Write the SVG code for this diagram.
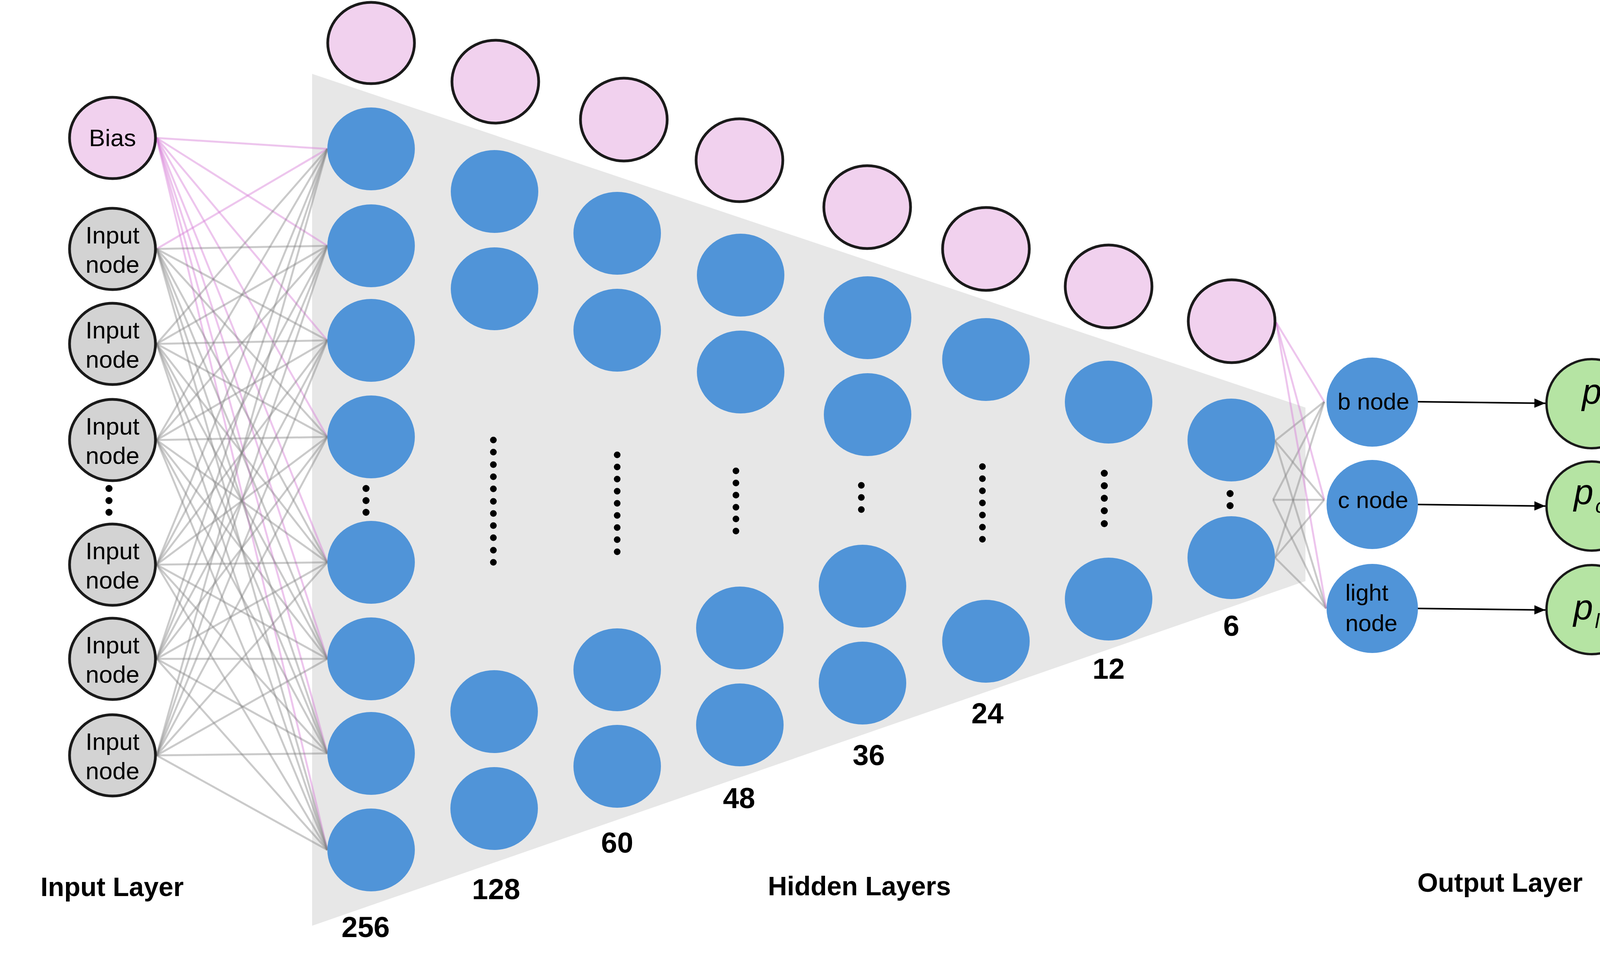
<svg xmlns="http://www.w3.org/2000/svg" width="4339" height="2472" viewBox="0 0 4339 2472">
<defs>
<style>
.bg{fill:#ffffff}
.band{fill:#e7e7e7}
.bias{fill:#f1d1ee;stroke:#1a1a1a;stroke-width:7}
.inp{fill:#d3d3d3;stroke:#1a1a1a;stroke-width:7}
.hid{fill:#5094d8}
.out{fill:#b5e4a3;stroke:#1a1a1a;stroke-width:6}
.g{stroke:#808080;stroke-opacity:0.42;stroke-width:5;fill:none}
.p{stroke:#d77fd6;stroke-opacity:0.45;stroke-width:5;fill:none}
.arr{stroke:#000;stroke-width:4;fill:none}
.dot{fill:#000}
.t{font-family:"Liberation Sans",Arial,sans-serif;font-size:62px;fill:#000;text-anchor:middle}
.tl{font-family:"Liberation Sans",Arial,sans-serif;font-size:60px;fill:#000}
.lab{font-family:"Liberation Sans",Arial,sans-serif;font-size:68px;font-weight:bold;fill:#000;text-anchor:middle}
.num{font-family:"Liberation Sans",Arial,sans-serif;font-size:74px;font-weight:bold;fill:#000;text-anchor:middle}
.pm{font-family:"Liberation Sans",Arial,sans-serif;font-style:italic;fill:#000}
</style>
<marker id="ah" markerUnits="userSpaceOnUse" markerWidth="30" markerHeight="26" refX="28" refY="13" orient="auto">
<path d="M0,1 L28,13 L0,25 Z" fill="#000"/>
</marker>
</defs>
<rect class="bg" x="0" y="0" width="4339" height="2472"/>
<polygon id="hidden-band" class="band" points="799,189 3342,1043 3342,1487 799,2369"/>

<g id="connectors">
<g id="in-to-h1">
<line class="p" x1="401" y1="353" x2="838" y2="381"/>
<line class="p" x1="401" y1="353" x2="838" y2="629"/>
<line class="p" x1="401" y1="353" x2="838" y2="871"/>
<line class="p" x1="401" y1="353" x2="838" y2="1118"/>
<line class="p" x1="401" y1="353" x2="838" y2="1439"/>
<line class="p" x1="401" y1="353" x2="838" y2="1686"/>
<line class="p" x1="401" y1="353" x2="838" y2="1928"/>
<line class="p" x1="401" y1="353" x2="838" y2="2175"/>
<line class="p" x1="401" y1="637" x2="838" y2="381"/>
<line class="g" x1="401" y1="637" x2="838" y2="629"/>
<line class="g" x1="401" y1="637" x2="838" y2="871"/>
<line class="g" x1="401" y1="637" x2="838" y2="1118"/>
<line class="g" x1="401" y1="637" x2="838" y2="1439"/>
<line class="g" x1="401" y1="637" x2="838" y2="1686"/>
<line class="g" x1="401" y1="637" x2="838" y2="1928"/>
<line class="g" x1="401" y1="637" x2="838" y2="2175"/>
<line class="g" x1="401" y1="880" x2="838" y2="381"/>
<line class="g" x1="401" y1="880" x2="838" y2="629"/>
<line class="g" x1="401" y1="880" x2="838" y2="871"/>
<line class="g" x1="401" y1="880" x2="838" y2="1118"/>
<line class="g" x1="401" y1="880" x2="838" y2="1439"/>
<line class="g" x1="401" y1="880" x2="838" y2="1686"/>
<line class="g" x1="401" y1="880" x2="838" y2="1928"/>
<line class="g" x1="401" y1="880" x2="838" y2="2175"/>
<line class="g" x1="401" y1="1126" x2="838" y2="381"/>
<line class="g" x1="401" y1="1126" x2="838" y2="629"/>
<line class="g" x1="401" y1="1126" x2="838" y2="871"/>
<line class="g" x1="401" y1="1126" x2="838" y2="1118"/>
<line class="g" x1="401" y1="1126" x2="838" y2="1439"/>
<line class="g" x1="401" y1="1126" x2="838" y2="1686"/>
<line class="g" x1="401" y1="1126" x2="838" y2="1928"/>
<line class="g" x1="401" y1="1126" x2="838" y2="2175"/>
<line class="g" x1="401" y1="1445" x2="838" y2="381"/>
<line class="g" x1="401" y1="1445" x2="838" y2="629"/>
<line class="g" x1="401" y1="1445" x2="838" y2="871"/>
<line class="g" x1="401" y1="1445" x2="838" y2="1118"/>
<line class="g" x1="401" y1="1445" x2="838" y2="1439"/>
<line class="g" x1="401" y1="1445" x2="838" y2="1686"/>
<line class="g" x1="401" y1="1445" x2="838" y2="1928"/>
<line class="g" x1="401" y1="1445" x2="838" y2="2175"/>
<line class="g" x1="401" y1="1686" x2="838" y2="381"/>
<line class="g" x1="401" y1="1686" x2="838" y2="629"/>
<line class="g" x1="401" y1="1686" x2="838" y2="871"/>
<line class="g" x1="401" y1="1686" x2="838" y2="1118"/>
<line class="g" x1="401" y1="1686" x2="838" y2="1439"/>
<line class="g" x1="401" y1="1686" x2="838" y2="1686"/>
<line class="g" x1="401" y1="1686" x2="838" y2="1928"/>
<line class="g" x1="401" y1="1686" x2="838" y2="2175"/>
<line class="g" x1="401" y1="1933" x2="838" y2="381"/>
<line class="g" x1="401" y1="1933" x2="838" y2="629"/>
<line class="g" x1="401" y1="1933" x2="838" y2="871"/>
<line class="g" x1="401" y1="1933" x2="838" y2="1118"/>
<line class="g" x1="401" y1="1933" x2="838" y2="1439"/>
<line class="g" x1="401" y1="1933" x2="838" y2="1686"/>
<line class="g" x1="401" y1="1933" x2="838" y2="1928"/>
<line class="g" x1="401" y1="1933" x2="838" y2="2175"/>
</g>
<g id="h8-to-out">
<line class="g" x1="3264" y1="1128" x2="3390" y2="1028"/>
<line class="g" x1="3264" y1="1128" x2="3390" y2="1279"/>
<line class="g" x1="3264" y1="1128" x2="3395" y2="1557"/>
<line class="g" x1="3259" y1="1279" x2="3390" y2="1028"/>
<line class="g" x1="3259" y1="1279" x2="3390" y2="1279"/>
<line class="g" x1="3259" y1="1279" x2="3395" y2="1557"/>
<line class="g" x1="3264" y1="1427" x2="3390" y2="1028"/>
<line class="g" x1="3264" y1="1427" x2="3390" y2="1279"/>
<line class="g" x1="3264" y1="1427" x2="3395" y2="1557"/>
<line class="p" x1="3267" y1="825" x2="3390" y2="1028"/>
<line class="p" x1="3267" y1="825" x2="3390" y2="1279"/>
<line class="p" x1="3267" y1="825" x2="3395" y2="1557"/>
</g>
<g id="arrows">
<line class="arr" x1="3629" y1="1028" x2="3956" y2="1032" marker-end="url(#ah)"/>
<line class="arr" x1="3629" y1="1291" x2="3956" y2="1295" marker-end="url(#ah)"/>
<line class="arr" x1="3629" y1="1557" x2="3956" y2="1561" marker-end="url(#ah)"/>
</g>
</g>

<g id="input-layer">
<g id="bias-in"><ellipse class="bias" cx="288" cy="353" rx="110" ry="104"/><text class="t" x="288" y="374">Bias</text></g>
<g id="in1"><ellipse class="inp" cx="288" cy="637" rx="110" ry="104"/><text class="t" x="288" y="623">Input</text><text class="t" x="288" y="698">node</text></g>
<g id="in2"><ellipse class="inp" cx="288" cy="880" rx="110" ry="104"/><text class="t" x="288" y="866">Input</text><text class="t" x="288" y="941">node</text></g>
<g id="in3"><ellipse class="inp" cx="288" cy="1126" rx="110" ry="104"/><text class="t" x="288" y="1112">Input</text><text class="t" x="288" y="1187">node</text></g>
<g id="in-dots"><circle class="dot" cx="279" cy="1250" r="9"/><circle class="dot" cx="279" cy="1281" r="9"/><circle class="dot" cx="279" cy="1311" r="9"/></g>
<g id="in4"><ellipse class="inp" cx="288" cy="1445" rx="110" ry="104"/><text class="t" x="288" y="1431">Input</text><text class="t" x="288" y="1506">node</text></g>
<g id="in5"><ellipse class="inp" cx="288" cy="1686" rx="110" ry="104"/><text class="t" x="288" y="1672">Input</text><text class="t" x="288" y="1747">node</text></g>
<g id="in6"><ellipse class="inp" cx="288" cy="1933" rx="110" ry="104"/><text class="t" x="288" y="1919">Input</text><text class="t" x="288" y="1994">node</text></g>
</g>

<g id="hidden-1">
<ellipse class="bias" cx="950" cy="110" rx="111" ry="104"/>
<ellipse class="hid" cx="950" cy="381" rx="112" ry="106"/>
<ellipse class="hid" cx="950" cy="629" rx="112" ry="106"/>
<ellipse class="hid" cx="950" cy="871" rx="112" ry="106"/>
<ellipse class="hid" cx="950" cy="1118" rx="112" ry="106"/>
<circle class="dot" cx="937" cy="1250" r="9"/><circle class="dot" cx="937" cy="1281" r="9"/><circle class="dot" cx="937" cy="1311" r="9"/>
<ellipse class="hid" cx="950" cy="1439" rx="112" ry="106"/>
<ellipse class="hid" cx="950" cy="1686" rx="112" ry="106"/>
<ellipse class="hid" cx="950" cy="1928" rx="112" ry="106"/>
<ellipse class="hid" cx="950" cy="2175" rx="112" ry="106"/>
<text class="num" x="936" y="2398">256</text>
</g>

<g id="hidden-2">
<ellipse class="bias" cx="1268" cy="209" rx="111" ry="106"/>
<ellipse class="hid" cx="1266" cy="490" rx="112" ry="106"/>
<ellipse class="hid" cx="1266" cy="739" rx="112" ry="106"/>
<circle class="dot" cx="1263" cy="1126" r="8.5"/><circle class="dot" cx="1263" cy="1157" r="8.5"/><circle class="dot" cx="1263" cy="1189" r="8.5"/><circle class="dot" cx="1263" cy="1220" r="8.5"/><circle class="dot" cx="1263" cy="1251" r="8.5"/><circle class="dot" cx="1263" cy="1283" r="8.5"/><circle class="dot" cx="1263" cy="1314" r="8.5"/><circle class="dot" cx="1263" cy="1345" r="8.5"/><circle class="dot" cx="1263" cy="1376" r="8.5"/><circle class="dot" cx="1263" cy="1408" r="8.5"/><circle class="dot" cx="1263" cy="1439" r="8.5"/>
<ellipse class="hid" cx="1265" cy="1821" rx="112" ry="106"/>
<ellipse class="hid" cx="1265" cy="2069" rx="112" ry="106"/>
<text class="num" x="1270" y="2301">128</text>
</g>

<g id="hidden-3">
<ellipse class="bias" cx="1597" cy="306" rx="111" ry="106"/>
<ellipse class="hid" cx="1580" cy="597" rx="112" ry="106"/>
<ellipse class="hid" cx="1580" cy="845" rx="112" ry="106"/>
<circle class="dot" cx="1580" cy="1164" r="8.5"/><circle class="dot" cx="1580" cy="1195" r="8.5"/><circle class="dot" cx="1580" cy="1226" r="8.5"/><circle class="dot" cx="1580" cy="1257" r="8.5"/><circle class="dot" cx="1580" cy="1288" r="8.5"/><circle class="dot" cx="1580" cy="1319" r="8.5"/><circle class="dot" cx="1580" cy="1350" r="8.5"/><circle class="dot" cx="1580" cy="1381" r="8.5"/><circle class="dot" cx="1580" cy="1412" r="8.5"/>
<ellipse class="hid" cx="1580" cy="1714" rx="112" ry="106"/>
<ellipse class="hid" cx="1580" cy="1961" rx="112" ry="106"/>
<text class="num" x="1580" y="2182">60</text>
</g>

<g id="hidden-4">
<ellipse class="bias" cx="1893" cy="410" rx="111" ry="106"/>
<ellipse class="hid" cx="1896" cy="704" rx="112" ry="106"/>
<ellipse class="hid" cx="1896" cy="952" rx="112" ry="106"/>
<circle class="dot" cx="1884" cy="1205" r="8.5"/><circle class="dot" cx="1884" cy="1236" r="8.5"/><circle class="dot" cx="1884" cy="1267" r="8.5"/><circle class="dot" cx="1884" cy="1298" r="8.5"/><circle class="dot" cx="1884" cy="1328" r="8.5"/><circle class="dot" cx="1884" cy="1359" r="8.5"/>
<ellipse class="hid" cx="1894" cy="1607" rx="112" ry="106"/>
<ellipse class="hid" cx="1894" cy="1855" rx="112" ry="106"/>
<text class="num" x="1892" y="2068">48</text>
</g>

<g id="hidden-5">
<ellipse class="bias" cx="2220" cy="530" rx="111" ry="106"/>
<ellipse class="hid" cx="2221" cy="813" rx="112" ry="106"/>
<ellipse class="hid" cx="2221" cy="1061" rx="112" ry="106"/>
<circle class="dot" cx="2205" cy="1242" r="8.5"/><circle class="dot" cx="2205" cy="1273" r="8.5"/><circle class="dot" cx="2205" cy="1304" r="8.5"/>
<ellipse class="hid" cx="2208" cy="1500" rx="112" ry="106"/>
<ellipse class="hid" cx="2208" cy="1748" rx="112" ry="106"/>
<text class="num" x="2224" y="1958">36</text>
</g>

<g id="hidden-6">
<ellipse class="bias" cx="2524" cy="637" rx="111" ry="106"/>
<ellipse class="hid" cx="2524" cy="920" rx="112" ry="106"/>
<circle class="dot" cx="2515" cy="1194" r="8.5"/><circle class="dot" cx="2515" cy="1225" r="8.5"/><circle class="dot" cx="2515" cy="1256" r="8.5"/><circle class="dot" cx="2515" cy="1287" r="8.5"/><circle class="dot" cx="2515" cy="1318" r="8.5"/><circle class="dot" cx="2515" cy="1349" r="8.5"/><circle class="dot" cx="2515" cy="1380" r="8.5"/>
<ellipse class="hid" cx="2524" cy="1641" rx="112" ry="106"/>
<text class="num" x="2528" y="1851">24</text>
</g>

<g id="hidden-7">
<ellipse class="bias" cx="2838" cy="733" rx="111" ry="106"/>
<ellipse class="hid" cx="2838" cy="1029" rx="112" ry="106"/>
<circle class="dot" cx="2827" cy="1211" r="9"/><circle class="dot" cx="2827" cy="1243" r="9"/><circle class="dot" cx="2827" cy="1275" r="9"/><circle class="dot" cx="2827" cy="1307" r="9"/><circle class="dot" cx="2827" cy="1340" r="9"/>
<ellipse class="hid" cx="2838" cy="1533" rx="112" ry="106"/>
<text class="num" x="2838" y="1737">12</text>
</g>

<g id="hidden-8">
<ellipse class="bias" cx="3153" cy="822" rx="111" ry="106"/>
<ellipse class="hid" cx="3152" cy="1126" rx="112" ry="106"/>
<circle class="dot" cx="3149" cy="1263" r="9"/><circle class="dot" cx="3149" cy="1294" r="9"/>
<ellipse class="hid" cx="3152" cy="1427" rx="112" ry="106"/>
<text class="num" x="3152" y="1627">6</text>
</g>

<g id="out-b"><ellipse class="hid" cx="3513" cy="1029" rx="117" ry="114"/><text class="tl" x="3516" y="1048" text-anchor="middle">b node</text></g>
<g id="out-c"><ellipse class="hid" cx="3513" cy="1291" rx="117" ry="114"/><text class="tl" x="3515" y="1300" text-anchor="middle">c node</text></g>
<g id="out-light"><ellipse class="hid" cx="3513" cy="1557" rx="117" ry="114"/><text class="tl" x="3444" y="1537">light</text><text class="tl" x="3444" y="1615">node</text></g>

<g id="p-b"><ellipse class="out" cx="4075" cy="1033" rx="116" ry="114"/><text class="pm" x="4050" y="1033" font-size="90">p</text><text class="pm" x="4104" y="1054" font-size="52">b</text></g>
<g id="p-c"><ellipse class="out" cx="4075" cy="1295" rx="116" ry="114"/><text class="pm" x="4029" y="1290" font-size="90">p</text><text class="pm" x="4084" y="1312" font-size="52">c</text></g>
<g id="p-l"><ellipse class="out" cx="4075" cy="1560" rx="116" ry="114"/><text class="pm" x="4028" y="1585" font-size="90">p</text><text class="pm" x="4083" y="1607" font-size="52">l</text></g>

<text id="lbl-input" class="lab" x="287" y="2293">Input Layer</text>
<text id="lbl-hidden" class="lab" x="2200" y="2291">Hidden Layers</text>
<text id="lbl-output" class="lab" x="3840" y="2282">Output Layer</text>
</svg>
